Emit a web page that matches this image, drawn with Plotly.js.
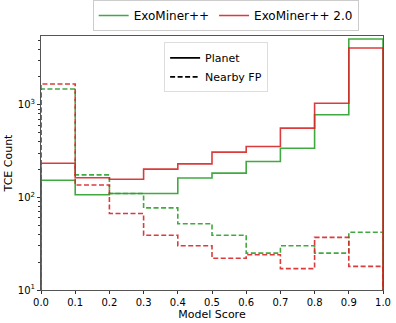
<!DOCTYPE html>
<html><head><meta charset="utf-8">
<script src="https://cdn.plot.ly/plotly-3.0.1.min.js"></script>
<style>html,body{margin:0;padding:0;background:#fff}#c{width:396px;height:323px}</style>
</head><body><div id="c"></div>
<script>
const binEdges = [0,0.1,0.2,0.3,0.4,0.5,0.6,0.7,0.8,0.9,1.0];
const planetV1 = [153,107,110,110,162,183,244,340,780,5130];
const planetV2 = [234,163,157,202,230,308,354,560,1040,4100];
const fpV1 = [1480,175,110,77,52,39,25,30,25,42];
const fpV2 = [1675,136,67,39,30,22,24,17,37,18];
const seriesNames = ['ExoMiner++','ExoMiner++ 2.0'];
const seriesColors = ['#2ca02c','#d62728'];
const baseline = 1;

function stepXY(vals){
  const x=[binEdges[0]], y=[baseline];
  for(let i=0;i<vals.length;i++){x.push(binEdges[i]); y.push(vals[i]);}
  x.push(binEdges[binEdges.length-1]); y.push(vals[vals.length-1]);
  x.push(binEdges[binEdges.length-1]); y.push(baseline);
  return {x,y};
}
const dashPat='5px,2.5px';
function tr(vals,color,dash,name,show){
  const s=stepXY(vals);
  return {x:s.x,y:s.y,type:'scatter',mode:'lines',line:{shape:'hv',color:color,width:1.6,dash:dash},
    opacity:0.9,name:name,showlegend:show,legend:'legend',hoverinfo:'skip'};
}
const traces=[
  tr(planetV1,seriesColors[0],'solid',seriesNames[0],true),
  tr(fpV1,seriesColors[0],dashPat,seriesNames[0],false),
  tr(planetV2,seriesColors[1],'solid',seriesNames[1],true),
  tr(fpV2,seriesColors[1],dashPat,seriesNames[1],false),
  {x:[null],y:[null],type:'scatter',mode:'lines',line:{color:'#000',width:1.6},name:'Planet',legend:'legend2'},
  {x:[null],y:[null],type:'scatter',mode:'lines',line:{color:'#000',width:1.6,dash:dashPat},name:'Nearby FP',legend:'legend2'}
];
const f={family:'DejaVu Sans',size:10,color:'#000'};
const layout={
  width:396,height:323,margin:{l:41,r:13,t:36,b:33,autoexpand:false},
  paper_bgcolor:'#fff',plot_bgcolor:'#fff',
  font:f,
  xaxis:{range:[0,1],tickvals:[0,0.1,0.2,0.3,0.4,0.5,0.6,0.7,0.8,0.9,1.0],ticktext:['0.0','0.1','0.2','0.3','0.4','0.5','0.6','0.7','0.8','0.9','1.0'],
    ticks:'outside',ticklen:3,tickcolor:'#333',showline:true,linecolor:'#555',linewidth:1,mirror:true,showgrid:false,zeroline:false,
    title:{text:'Model Score',font:{family:'DejaVu Sans',size:11},standoff:3},tickfont:f,automargin:false},
  yaxis:{type:'log',range:[1,3.743],tickvals:[10,100,1000],ticktext:['10<sup>1</sup>','10<sup>2</sup>','10<sup>3</sup>'],
    ticks:'outside',ticklen:3,tickcolor:'#333',showline:true,linecolor:'#555',linewidth:1,mirror:true,showgrid:false,zeroline:false,
    minor:{ticks:'outside',ticklen:2,tickcolor:'#333',dtick:'D1'},
    title:{text:'TCE Count',font:{family:'DejaVu Sans',size:11},standoff:2},tickfont:f,automargin:false},
  legend:{orientation:'h',x:0.54,xanchor:'center',xref:'paper',y:1.0,yanchor:'top',yref:'container',bordercolor:'#ccc',borderwidth:1,
    font:{family:'DejaVu Sans',size:12},bgcolor:'#fff',itemwidth:30,tracegroupgap:0},
  legend2:{x:0.36,xanchor:'left',y:0.975,yanchor:'top',bordercolor:'#ddd',borderwidth:1,font:{family:'DejaVu Sans',size:11},bgcolor:'rgba(255,255,255,0.8)',itemwidth:30}
};
Plotly.newPlot('c',traces,layout,{staticPlot:true,displayModeBar:false});
</script></body></html>
